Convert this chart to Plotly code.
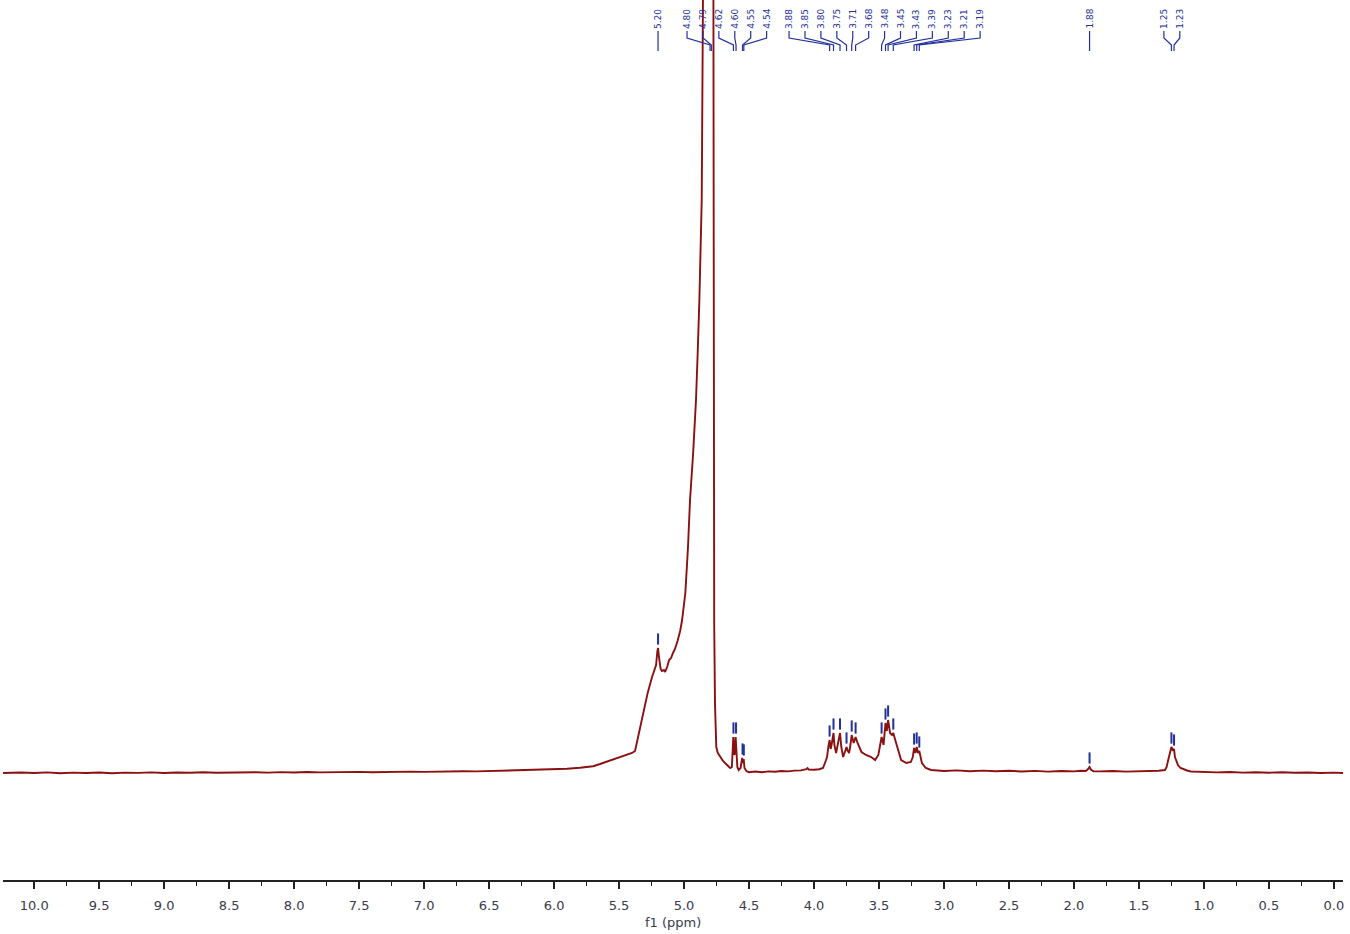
import plotly.graph_objects as go

# ---------------- data ----------------
ppm = [10.24, 10.1, 10.0, 9.9, 9.8, 9.7, 9.6, 9.5, 9.4, 9.3, 9.2, 9.1, 9.0, 8.9, 8.8, 8.7, 8.6, 8.5,
       8.4, 8.3, 8.2, 8.1, 8.0, 7.9, 7.8, 7.7, 7.6, 7.5, 7.4, 7.3, 7.2, 7.1, 7.0, 6.9, 6.8, 6.7,
       6.6, 6.5, 6.4, 6.3, 6.2, 6.1, 6.0, 5.9, 5.8, 5.7, 5.646, 5.6, 5.55, 5.5, 5.45, 5.40, 5.377,
       5.35, 5.315, 5.28, 5.246, 5.23, 5.215, 5.205, 5.20, 5.192, 5.18, 5.17, 5.155, 5.146, 5.13,
       5.115, 5.10, 5.085, 5.07, 5.05, 5.03, 5.015, 4.99, 4.97, 4.954, 4.93, 4.908, 4.895, 4.882,
       4.864, 4.854, 4.849, 4.84, 4.82, 4.80, 4.79, 4.776, 4.774, 4.772, 4.768, 4.762, 4.756,
       4.752, 4.74, 4.72, 4.70, 4.669, 4.645, 4.632, 4.626, 4.621, 4.613, 4.609, 4.603, 4.597,
       4.59, 4.58, 4.565, 4.553, 4.547, 4.541, 4.535, 4.52, 4.50, 4.45, 4.40, 4.35, 4.30, 4.25,
       4.20, 4.15, 4.10, 4.06, 4.05, 4.04, 4.00, 3.96, 3.931, 3.91, 3.90, 3.89, 3.88, 3.872,
       3.865, 3.85, 3.843, 3.83, 3.815, 3.80, 3.79, 3.776, 3.76, 3.75, 3.74, 3.73, 3.72, 3.71,
       3.695, 3.68, 3.665, 3.635, 3.60, 3.56, 3.53, 3.505, 3.48, 3.465, 3.45, 3.44, 3.43, 3.415,
       3.40, 3.39, 3.375, 3.35, 3.33, 3.29, 3.255, 3.24, 3.23, 3.22, 3.21, 3.20, 3.19, 3.17,
       3.14, 3.10, 3.05, 3.00, 2.9, 2.8, 2.7, 2.6, 2.5, 2.4, 2.3, 2.2, 2.1, 2.0, 1.95, 1.91,
       1.895, 1.88, 1.87, 1.85, 1.8, 1.7, 1.6, 1.5, 1.42, 1.35, 1.30, 1.287, 1.275, 1.26, 1.25,
       1.24, 1.23, 1.223, 1.20, 1.18, 1.162, 1.13, 1.10, 1.0, 0.9, 0.8, 0.7, 0.6, 0.5, 0.4, 0.3,
       0.2, 0.1, 0.0, -0.07]
intensity = [0, 0.5, 0, 0.6, -0.3, 0.4, 0, 0.5, -0.2, 0.4, 0.1, 0.6, 0, 0.5, 0.2, 0.7, 0.2, 0.6,
             0.3, 0.8, 0.4, 0.9, 0.5, 1.0, 0.6, 1.0, 0.7, 1.1, 0.8, 1.2, 1.0, 1.4, 1.1, 1.5, 1.3, 1.7,
             1.6, 2.0, 2.0, 2.5, 2.6, 3.0, 3.4, 4.2, 5.2, 6.8, 9, 11, 13, 15, 17.5, 20, 22,
             38, 60, 80, 96, 102, 108, 122, 125, 115, 104, 102, 103, 101, 106,
             113, 115, 120, 124, 132, 142, 153, 180, 225, 273, 320, 373, 420, 473,
             573, 673, 773, 1000, 1500, 2500, 2500, 1200, 773, 400, 150, 70, 40,
             26, 20, 16, 12, 8, 5, 6, 20, 36, 18, 20, 36, 16,
             6, 3, 5, 15, 10, 14, 5, 2, 0.8, 1.5, 0.8, 1.6, 1.2, 2.0,
             1.6, 2.4, 2.6, 3.8, 5, 3.5, 3.2, 3.8, 5, 12, 16, 26, 33, 24,
             28, 40, 28, 20, 30, 40, 26, 16, 22, 26, 22, 20, 28, 38,
             30, 36, 30, 21, 18, 16, 13, 18, 36, 28, 50, 42, 53, 40,
             38, 40, 33, 22, 13, 10, 11, 16, 25, 20, 26, 20, 22, 10,
             5, 3, 2.5, 2.0, 2.6, 1.8, 2.4, 1.7, 2.2, 1.5, 2.1, 1.4, 2.0, 1.6, 2.2, 2.0,
             3.5, 6, 3.5, 1.8, 1.6, 2.0, 1.4, 1.8, 1.5, 2.2, 3, 6, 13, 22, 26,
             23, 24, 16, 8, 5, 4, 2.5, 1.5, 1.0, 0.6, 1.0, 0.4, 0.8, 0.3, 0.7, 0.2,
             0.5, 0, 0.4, 0]

# picked peaks: position (ppm) and apparent top height
peak_ppm = [5.20, 4.80, 4.79, 4.62, 4.60, 4.55, 4.54, 3.88, 3.85, 3.80, 3.75, 3.71, 3.68,
            3.48, 3.45, 3.43, 3.39, 3.23, 3.21, 3.19, 1.88, 1.25, 1.23]
peak_top = [125, 2500, 2500, 36, 36, 15, 14, 33, 40, 40, 26, 38, 36,
            36, 50, 53, 40, 25, 26, 22, 6, 26, 24]
peak_labels = ["5.20", "4.80", "4.79", "4.62", "4.60", "4.55", "4.54", "3.88", "3.85", "3.80",
               "3.75", "3.71", "3.68", "3.48", "3.45", "3.43", "3.39", "3.23", "3.21", "3.19",
               "1.88", "1.25", "1.23"]

tick_vals = [10.0, 9.5, 9.0, 8.5, 8.0, 7.5, 7.0, 6.5, 6.0, 5.5, 5.0, 4.5, 4.0, 3.5, 3.0,
             2.5, 2.0, 1.5, 1.0, 0.5, 0.0]
tick_text = ["10.0", "9.5", "9.0", "8.5", "8.0", "7.5", "7.0", "6.5", "6.0", "5.5", "5.0",
             "4.5", "4.0", "3.5", "3.0", "2.5", "2.0", "1.5", "1.0", "0.5", "0.0"]

# ---------------- layout constants ----------------
W, H = 1350, 934
ML, MR, MT, MB = 3, 7, 0, 54
PH = H - MT - MB
X_RANGE = [10.24, -0.07]
Y_RANGE = [-107, 773]
LABEL_SPACING = 0.1225           # ppm between crowded labels
# label groups: (index of first label, number of labels, ppm of first label slot)
LABEL_GROUPS = [(0, 1, 5.20), (1, 6, 4.977), (7, 13, 4.192), (20, 1, 1.88), (21, 2, 1.308)]

BLUE = "#22309a"
RED = "#8b1010"


def py(px_from_top):
    """pixel row (from top of plot area) -> paper y"""
    return (PH - px_from_top) / PH


fig = go.Figure()
fig.add_trace(go.Scatter(x=ppm, y=intensity, mode="lines",
                         line=dict(color=RED, width=1.9), hoverinfo="skip"))

# peak-pick ticks
fig.add_trace(go.Scatter(x=peak_ppm, y=[t + 9 for t in peak_top], mode="markers",
                         marker=dict(symbol="line-ns", size=8,
                                     line=dict(color=BLUE, width=2)),
                         hoverinfo="skip"))

# labels and connector trees
shapes = []
annotations = []
for start, count, first_slot in LABEL_GROUPS:
    for k in range(count):
        i = start + k
        lx = first_slot - k * LABEL_SPACING
        px = peak_ppm[i]
        annotations.append(dict(x=lx, xref="x", y=py(19), yref="paper", text=peak_labels[i],
                                textangle=-90, showarrow=False, xanchor="center",
                                yanchor="middle",
                                font=dict(family="DejaVu Sans", size=9, color=BLUE)))
        path = (f"M {lx},{py(31)} L {lx},{py(38)} L {px},{py(45)} L {px},{py(51)}")
        shapes.append(dict(type="path", path=path, xref="x", yref="paper",
                           line=dict(color=BLUE, width=1.2)))

annotations.append(dict(x=0.5, xref="paper", y=0, yref="paper", yshift=-42,
                        text="f1 (ppm)", showarrow=False, xanchor="center",
                        yanchor="middle",
                        font=dict(family="DejaVu Sans", size=13, color="#3a3a4a")))

fig.update_layout(
    width=W, height=H,
    margin=dict(l=ML, r=MR, t=MT, b=MB),
    paper_bgcolor="white", plot_bgcolor="white",
    showlegend=False,
    shapes=shapes, annotations=annotations,
    xaxis=dict(range=X_RANGE, showgrid=False, zeroline=False,
               showline=True, linecolor="#222222", linewidth=1.5,
               ticks="outside", ticklen=7, tickwidth=1.5, tickcolor="#222222",
               tickvals=tick_vals, ticktext=tick_text, ticklabelstandoff=6,
               tickfont=dict(family="DejaVu Sans", size=13, color="#3a3a4a"),
               minor=dict(ticks="outside", ticklen=4, tickwidth=1.3,
                          tickcolor="#222222", dtick=0.25, tick0=0, showgrid=False),
               automargin=False, fixedrange=True),
    yaxis=dict(range=Y_RANGE, visible=False, showgrid=False, zeroline=False,
               fixedrange=True),
)

fig.write_html("out.html", config={"displayModeBar": False},
               post_script="document.body.style.margin='0';document.body.style.overflow='hidden';")
